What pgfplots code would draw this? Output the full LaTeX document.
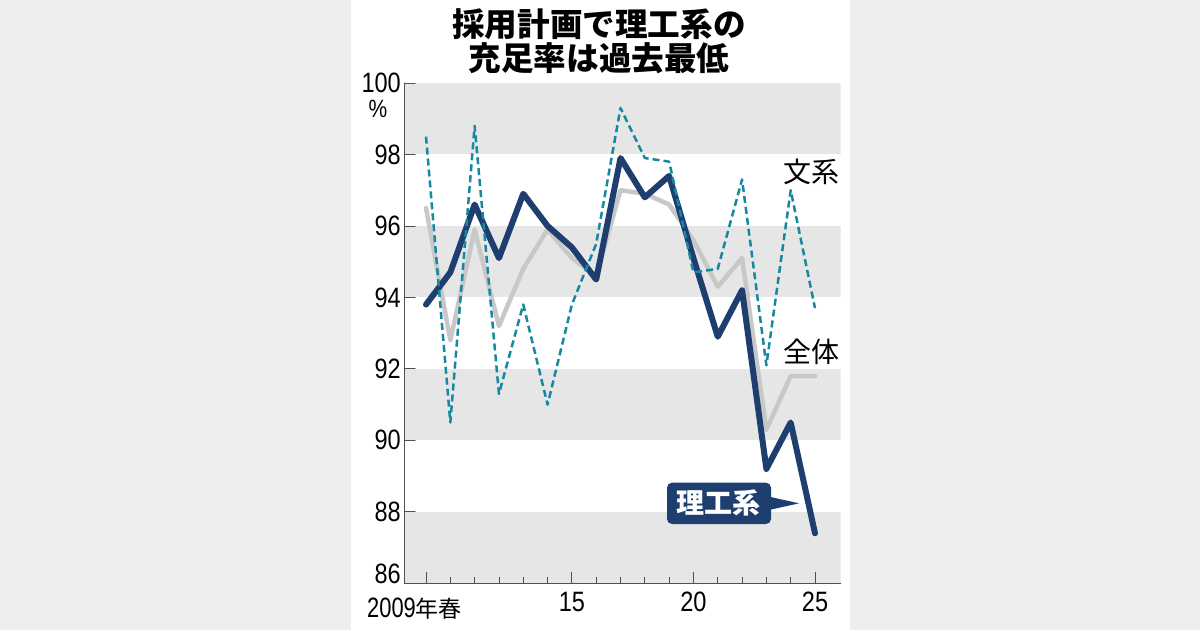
\documentclass[border=0pt]{standalone}
\usepackage{fontspec}
\usepackage{pgfplots}
\pgfplotsset{compat=1.18}
\setmainfont{Liberation Sans}
\newfontfamily\numfont[FakeStretch=0.84]{Liberation Sans}
\newfontfamily\cjk{Noto Sans CJK JP}
\definecolor{navy}{RGB}{30,62,112}
\definecolor{tealc}{RGB}{22,136,160}
\definecolor{grayl}{RGB}{200,200,200}
\definecolor{band}{RGB}{230,230,230}
\definecolor{bgout}{RGB}{238,238,238}
\definecolor{axisgray}{RGB}{80,80,80}
\begin{document}
\begin{tikzpicture}
\begin{scope}[x=1pt,y=1pt]
\fill[bgout] (0,0) rectangle (1200,630);
\fill[white] (351,0) rectangle (850,630);
\useasboundingbox (0,0) rectangle (1200,630);
\node[font=\cjk\bfseries\fontsize{32.6}{34}\selectfont, align=center] at (599,589) {採用計画で理工系の\\充足率は過去最低};
\end{scope}
\begin{axis}[
  at={(404.3pt,46.7pt)}, anchor=south west,
  scale only axis, width=436.4pt, height=500.3pt,
  xmin=2008.107, xmax=2026.057, ymin=86, ymax=100,
  axis x line*=bottom, axis y line*=left,
  axis line style={draw=axisgray, line width=1pt, -},
  axis on top=true,
  xtick={2009,2015,2020,2025}, xticklabels={,15,20,25},
  minor xtick={2010,2011,2012,2013,2014,2016,2017,2018,2019,2021,2022,2023,2024},
  ytick={86,88,90,92,94,96,98,100},
  yticklabels={\raisebox{20pt}{86},88,90,92,94,96,98,100},
  tick align=inside, major tick length=11pt, minor tick length=6pt,
  tick style={draw=axisgray, line width=0.8pt},
  xticklabel style={font=\numfont\fontsize{28}{28}\selectfont, yshift=-5pt},
  yticklabel style={font=\numfont\fontsize{28}{28}\selectfont},
  line join=round, line cap=round,
]
\fill[band] (axis cs:2008.107,98) rectangle (axis cs:2026.057,100);
\fill[band] (axis cs:2008.107,94) rectangle (axis cs:2026.057,96);
\fill[band] (axis cs:2008.107,90) rectangle (axis cs:2026.057,92);
\fill[band] (axis cs:2008.107,86) rectangle (axis cs:2026.057,88);
% 全体
\addplot[grayl, line width=4.5pt, mark=none] coordinates {
(2009,96.5) (2010,92.8) (2011,95.9) (2012,93.2) (2013,94.8) (2014,95.9) (2015,95.1) (2016,94.6)
(2017,97.0) (2018,96.9) (2019,96.6) (2020,95.6) (2021,94.3) (2022,95.1) (2023,90.3) (2024,91.8) (2025,91.8)};
% 理工系
\addplot[navy, line width=6pt, mark=none] coordinates {
(2009,93.8) (2010,94.7) (2011,96.6) (2012,95.1) (2013,96.9) (2014,96.0) (2015,95.4) (2016,94.5)
(2017,97.9) (2018,96.8) (2019,97.4) (2020,95.1) (2021,92.9) (2022,94.2) (2023,89.2) (2024,90.5) (2025,87.4)};
% 文系
\addplot[tealc, line width=2.5pt, dash pattern=on 7pt off 4pt, line cap=butt, mark=none] coordinates {
(2009,98.5) (2010,90.5) (2011,98.8) (2012,91.3) (2013,93.8) (2014,91.0) (2015,93.8) (2016,95.5)
(2017,99.3) (2018,97.9) (2019,97.8) (2020,94.7) (2021,94.8) (2022,97.3) (2023,92.1) (2024,97.0) (2025,93.7)};
\end{axis}
\begin{scope}[x=1pt,y=1pt]
\node[anchor=base east, inner sep=0, font=\numfont\fontsize{28}{28}\selectfont] at (462,13) {\addfontfeature{FakeStretch=0.78}2009{\cjk\fontsize{23}{23}\selectfont 年春}};
\node[font=\numfont\fontsize{25}{25}\selectfont, inner sep=0] at (378,521) {\%};
\node[font=\cjk\fontsize{28}{28}\selectfont, inner sep=0] at (811,458) {文系};
\node[font=\cjk\fontsize{28}{28}\selectfont, inner sep=0] at (811,278) {全体};
\fill[navy, rounded corners=5pt] (667,106) rectangle (771,147.3);
\fill[navy] (769,133.3) -- (799,126.7) -- (769,120) -- cycle;
\node[font=\cjk\bfseries\fontsize{28}{28}\selectfont, text=white, inner sep=0] at (718,127) {理工系};
\end{scope}
\end{tikzpicture}
\end{document}
